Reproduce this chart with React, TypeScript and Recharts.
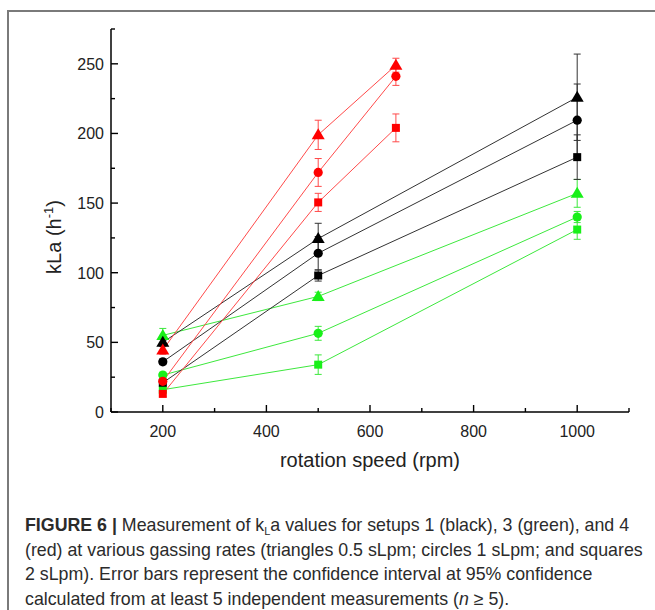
import { ComposedChart, Line, XAxis, YAxis, ErrorBar } from "recharts";

// rotation speeds (rpm)
const rpmSetups13 = [200, 500, 1000];
const rpmSetup4 = [200, 500, 650];

// setup 1 (black)
const s1Triangles = [50, 124.5, 226];
const s1TrianglesErr = [3, 11, 31];
const s1Circles = [36, 114, 209.5];
const s1CirclesErr = [2, 12, 26];
const s1Squares = [21, 98, 183];
const s1SquaresErr = [2, 4, 16];

// setup 3 (green)
const s3Triangles = [55, 83, 157];
const s3TrianglesErr = [5, 3, 10];
const s3Circles = [26.5, 56.5, 140];
const s3CirclesErr = [2, 5, 4];
const s3Squares = [16, 34, 131];
const s3SquaresErr = [2, 7, 7];

// setup 4 (red)
const s4Triangles = [44.5, 199, 249];
const s4TrianglesErr = [3, 10.5, 5];
const s4Circles = [22, 172, 241];
const s4CirclesErr = [2, 10, 6.5];
const s4Squares = [13, 150.5, 204];
const s4SquaresErr = [2, 6.5, 10];

const xTicks = [100, 200, 300, 400, 500, 600, 700, 800, 900, 1000, 1100];
const xLabels = [200, 400, 600, 800, 1000];
const yTicks = [0, 25, 50, 75, 100, 125, 150, 175, 200, 225, 250, 275];
const yLabels = [0, 50, 100, 150, 200, 250];

const FONT = '"Liberation Sans", Arial, sans-serif';

const toPoints = (xs: number[], ys: number[], errs: number[]) =>
	xs.map((x, i) => ({ x, y: ys[i], err: errs[i] }));

type Shape = "triangle" | "circle" | "square";

const series = [
	{ id: "s3-tri", shape: "triangle", mark: "#19f019", line: "#3de83d", data: toPoints(rpmSetups13, s3Triangles, s3TrianglesErr) },
	{ id: "s3-circ", shape: "circle", mark: "#19f019", line: "#3de83d", data: toPoints(rpmSetups13, s3Circles, s3CirclesErr) },
	{ id: "s3-sq", shape: "square", mark: "#19f019", line: "#3de83d", data: toPoints(rpmSetups13, s3Squares, s3SquaresErr) },
	{ id: "s1-tri", shape: "triangle", mark: "#000", line: "#333", data: toPoints(rpmSetups13, s1Triangles, s1TrianglesErr) },
	{ id: "s1-circ", shape: "circle", mark: "#000", line: "#333", data: toPoints(rpmSetups13, s1Circles, s1CirclesErr) },
	{ id: "s1-sq", shape: "square", mark: "#000", line: "#333", data: toPoints(rpmSetups13, s1Squares, s1SquaresErr) },
	{ id: "s4-tri", shape: "triangle", mark: "#ff0000", line: "#ff4a4a", data: toPoints(rpmSetup4, s4Triangles, s4TrianglesErr) },
	{ id: "s4-circ", shape: "circle", mark: "#ff0000", line: "#ff4a4a", data: toPoints(rpmSetup4, s4Circles, s4CirclesErr) },
	{ id: "s4-sq", shape: "square", mark: "#ff0000", line: "#ff4a4a", data: toPoints(rpmSetup4, s4Squares, s4SquaresErr) },
];

function marker(shape: Shape, color: string) {
	return (props: any) => {
		const { cx, cy, index } = props;
		if (cx == null || cy == null) return <g key={index} />;
		if (shape === "triangle")
			return (
				<polygon
					key={index}
					points={`${cx},${cy - 6.5} ${cx + 6.5},${cy + 4.5} ${cx - 6.5},${cy + 4.5}`}
					fill={color}
				/>
			);
		if (shape === "circle")
			return <circle key={index} cx={cx} cy={cy} r={4.6} fill={color} />;
		return <rect key={index} x={cx - 4} y={cy - 4} width={8} height={8} fill={color} />;
	};
}

function YTick(props: any) {
	const { x, y, payload } = props;
	const major = yLabels.includes(payload.value);
	return (
		<g>
			<line x1={x} x2={x + (major ? 7 : 4)} y1={y} y2={y} stroke="#000" strokeWidth={1.4} />
			{major && (
				<text x={x - 7} y={y + 6} textAnchor="end" fontFamily={FONT} fontSize={16} fill="#222">
					{payload.value}
				</text>
			)}
		</g>
	);
}

function XTick(props: any) {
	const { x, y, payload } = props;
	const major = xLabels.includes(payload.value);
	return (
		<g>
			<line x1={x} x2={x} y1={y} y2={y - (major ? 7 : 4)} stroke="#000" strokeWidth={1.4} />
			{major && (
				<text x={x} y={y + 25} textAnchor="middle" fontFamily={FONT} fontSize={16} fill="#222">
					{payload.value}
				</text>
			)}
		</g>
	);
}

export default function App() {
	return (
		<div
			style={{
				position: "absolute",
				left: 0,
				top: 0,
				width: 655,
				height: 610,
				background: "#fff",
				overflow: "hidden",
			}}
		>
			<div
				style={{
					position: "absolute",
					left: 7,
					top: 10,
					width: 700,
					height: 700,
					borderTop: "2px solid #7a7a7a",
					borderLeft: "2px solid #7a7a7a",
				}}
			/>
			<div style={{ position: "absolute", left: 0, top: 0 }}>
				<ComposedChart width={655} height={480} margin={{ top: 29, right: 26, bottom: 8, left: 51 }}>
					<XAxis
						dataKey="x"
						type="number"
						domain={[100, 1100]}
						ticks={xTicks}
						interval={0}
						tickSize={0}
						tickMargin={0}
						tick={<XTick />}
						height={60}
						axisLine={{ stroke: "#000", strokeWidth: 1.5 }}
						label={(p: any) => {
							const vb = p.viewBox;
							return (
								<text
									x={vb.x + vb.width / 2}
									y={vb.y + 55}
									textAnchor="middle"
									fontFamily={FONT}
									fontSize={20}
									fill="#222"
								>
									rotation speed (rpm)
								</text>
							);
						}}
					/>
					<YAxis
						type="number"
						domain={[0, 275]}
						ticks={yTicks}
						interval={0}
						tickSize={0}
						tickMargin={0}
						tick={<YTick />}
						width={60}
						axisLine={{ stroke: "#000", strokeWidth: 1.5 }}
						label={() => (
							<text
								x={61}
								y={237}
								transform="rotate(-90, 61, 237)"
								textAnchor="middle"
								fontFamily={FONT}
								fontSize={20}
								fill="#222"
							>
								kLa (h<tspan dy={-8} fontSize={13}>-1</tspan>
								<tspan dy={8}>)</tspan>
							</text>
						)}
					/>
					{series.map((s) => (
						<Line
							key={s.id}
							data={s.data}
							dataKey="y"
							type="linear"
							stroke={s.line}
							strokeWidth={1}
							dot={marker(s.shape as Shape, s.mark)}
							activeDot={false}
							isAnimationActive={false}
						>
							<ErrorBar dataKey="err" direction="y" width={3.5} stroke={s.line} strokeWidth={1} />
						</Line>
					))}
				</ComposedChart>
			</div>
			<div
				style={{
					position: "absolute",
					left: 25,
					top: 513,
					fontFamily: FONT,
					fontSize: 17.8,
					lineHeight: "24.5px",
					color: "#2b2b2b",
					whiteSpace: "nowrap",
				}}
			>
				<b>FIGURE 6 |</b> Measurement of k
				<span style={{ fontSize: 11, position: "relative", top: 4, lineHeight: 0 }}>L</span>a values for setups 1 (black), 3 (green), and 4
				<br />
				(red) at various gassing rates (triangles 0.5 sLpm; circles 1 sLpm; and squares
				<br />
				2 sLpm). Error bars represent the confidence interval at 95% confidence
				<br />
				calculated from at least 5 independent measurements (<i>n</i> &#8805; 5).
			</div>
		</div>
	);
}
